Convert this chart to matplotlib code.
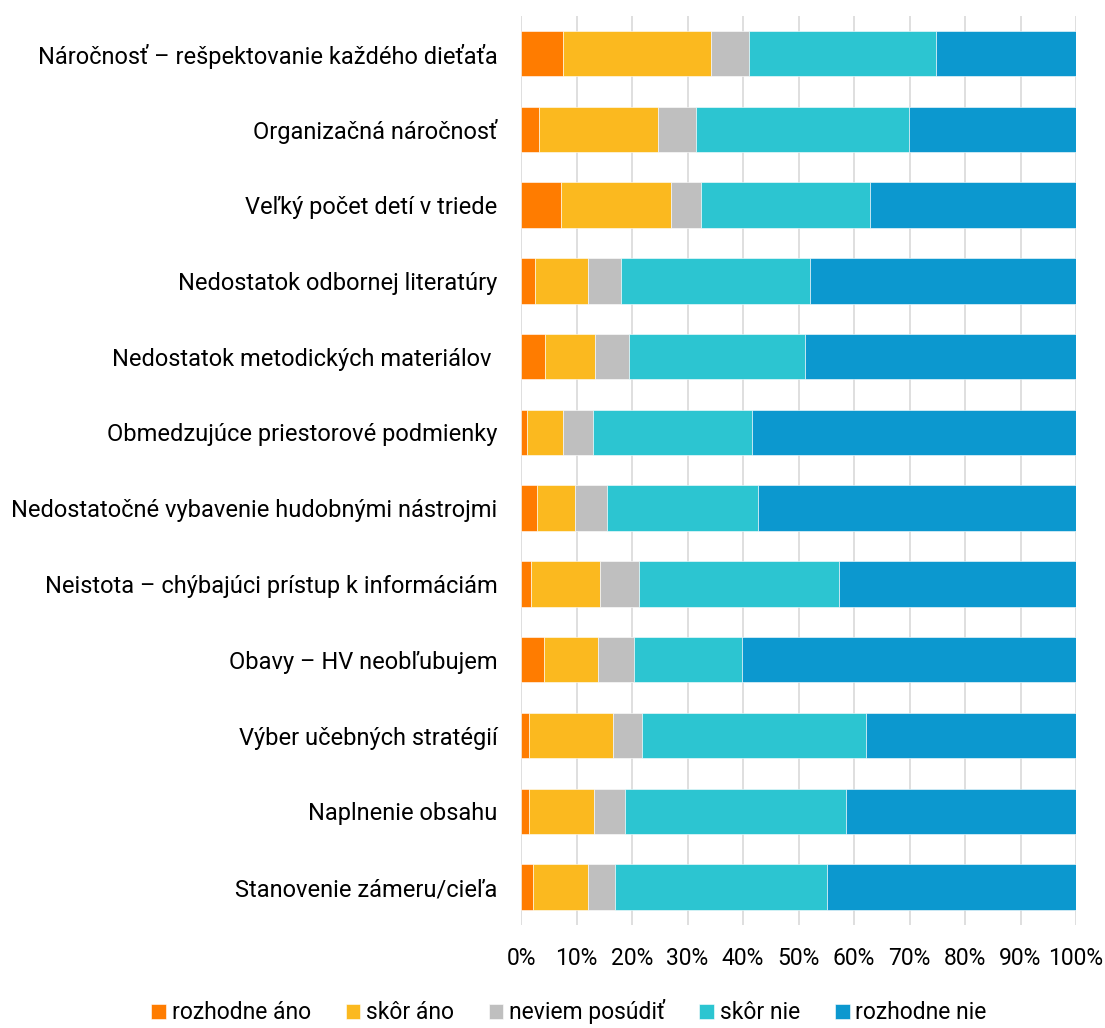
import numpy as np
import matplotlib.pyplot as plt

plt.rcParams['font.family'] = ['Roboto', 'DejaVu Sans']

# categories, top to bottom as in the picture
categories = [
    'Náročnosť – rešpektovanie každého dieťaťa',
    'Organizačná náročnosť',
    'Veľký počet detí v triede',
    'Nedostatok odbornej literatúry',
    'Nedostatok metodických materiálov ',
    'Obmedzujúce priestorové podmienky',
    'Nedostatočné vybavenie hudobnými nástrojmi',
    'Neistota – chýbajúci prístup k informáciám',
    'Obavy – HV neobľubujem',
    'Výber učebných stratégií',
    'Naplnenie obsahu',
    'Stanovenie zámeru/cieľa',
]

series = ['rozhodne áno', 'skôr áno', 'neviem posúdiť', 'skôr nie', 'rozhodne nie']

# percentages
rozhodne_ano = [7.6, 3.3, 7.2, 2.6, 4.3, 1.1, 2.9, 1.8, 4.1, 1.4, 1.4, 2.2]
skor_ano = [26.7, 21.3, 19.9, 9.4, 9.1, 6.4, 6.9, 12.5, 9.7, 15.2, 11.8, 9.8]
neviem = [6.8, 7.0, 5.4, 6.0, 6.1, 5.5, 5.7, 7.0, 6.6, 5.2, 5.5, 4.9]
skor_nie = [33.7, 38.3, 30.3, 34.0, 31.7, 28.7, 27.2, 36.0, 19.4, 40.3, 39.9, 38.2]
rozhodne_nie = [25.2, 30.1, 37.2, 48.0, 48.8, 58.3, 57.3, 42.7, 60.2, 37.9, 41.4, 44.9]

colors = ['#FF7C00', '#FBB91F', '#BFBFBF', '#2CC5D1', '#0C98CF']

values = np.array([rozhodne_ano, skor_ano, neviem, skor_nie, rozhodne_nie])
values = values / values.sum(axis=0) * 100

fig = plt.figure(figsize=(11.05, 10.28), dpi=100)
ax = fig.add_axes([0.4715, 0.1002, 0.9738 - 0.4715, 0.9848 - 0.1002])

y = np.arange(len(categories))
left = np.zeros(len(categories))
for i, name in enumerate(series):
    ax.barh(y, values[i], left=left, height=0.6, color=colors[i],
            edgecolor='white', linewidth=0.4, label=name)
    left += values[i]

ax.set_xlim(0, 100)
ax.set_ylim(len(categories) - 0.5, -0.5)
ax.set_yticks(y)
ax.set_yticklabels(categories, fontsize=17)
ax.set_xticks(np.arange(0, 101, 10))
ax.set_xticklabels([f'{v}%' for v in range(0, 101, 10)], fontsize=16.5)
ax.tick_params(axis='y', length=0, pad=17)
ax.tick_params(axis='x', length=0, pad=16)
ax.xaxis.grid(True, color='#D9D9D9', linewidth=1.2)
ax.set_axisbelow(True)
for s in ax.spines.values():
    s.set_visible(False)

fig.legend(loc='center', bbox_to_anchor=(0.515, 0.0156), ncol=5,
           frameon=False, fontsize=16.5, handlelength=0.65, handleheight=0.65,
           handletextpad=0.25, columnspacing=1.5, borderpad=0)

fig.savefig('out.png', dpi=100)
